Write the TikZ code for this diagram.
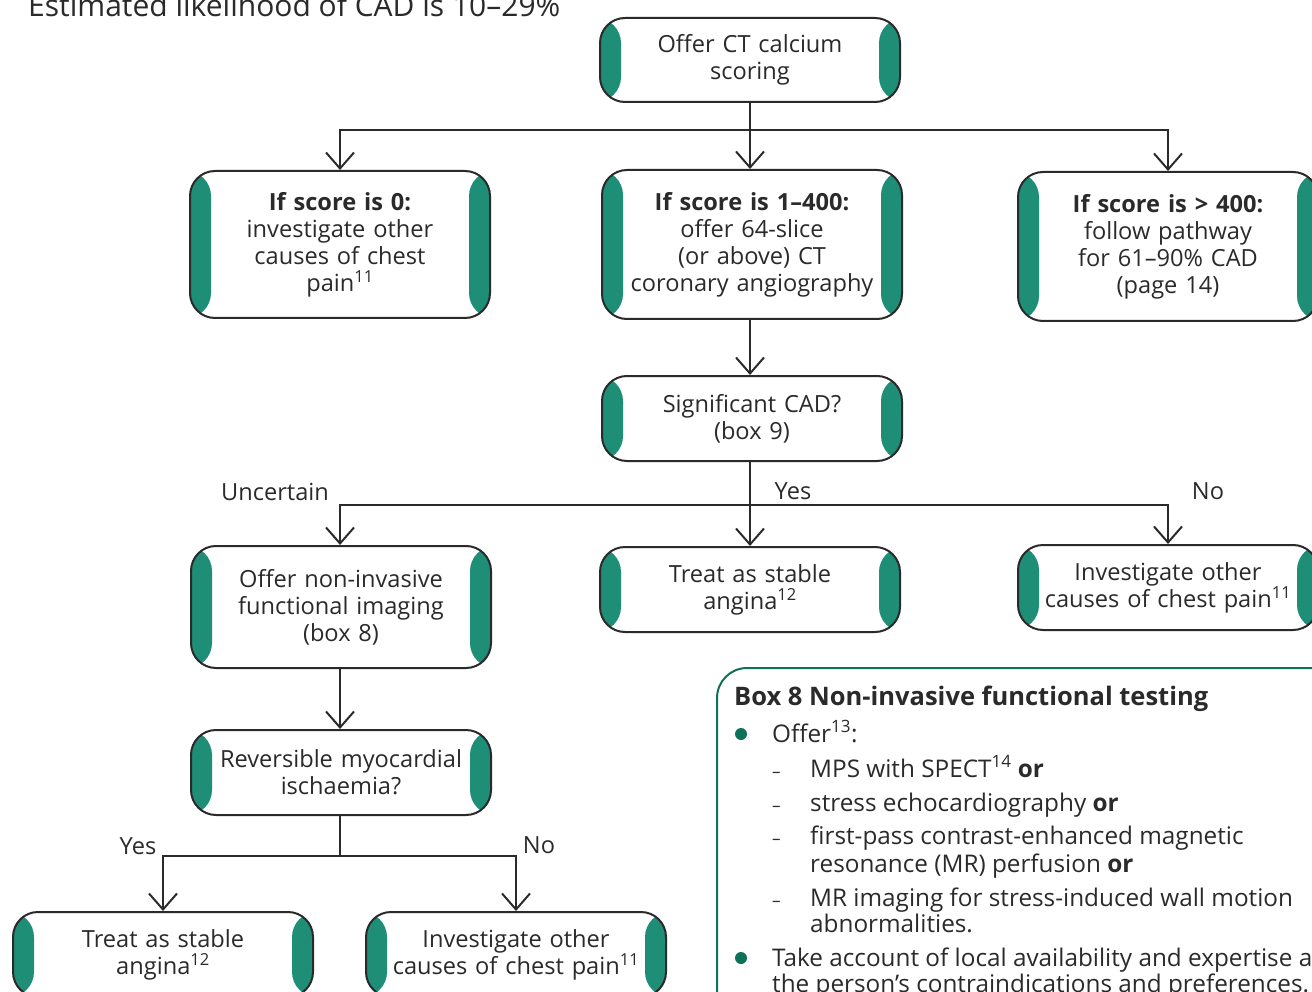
\documentclass[tikz,border=0pt]{standalone}
\usepackage{fontspec}
\setmainfont{Open Sans}
\usetikzlibrary{arrows.meta,positioning}
\definecolor{bandgreen}{HTML}{1E8E76}
\definecolor{panelgreen}{HTML}{0F7258}
\definecolor{inkgray}{HTML}{2A2A2A}
\newcommand\boxfont{\fontsize{23.6}{27}\selectfont}
\newcommand\panelfont{\fontsize{24.3}{27}\selectfont}
\newcommand\headfont{\fontsize{30}{34}\selectfont}
\tikzset
{
    pathbox/.style  = {rectangle, rounded corners=25pt, draw=inkgray, line width=2pt, fill=white,
                       minimum width=300pt, minimum height=#1, text width=258pt, align=center,
                       inner sep=0pt, font=\boxfont, text=inkgray,
                       path picture={
                         \fill[bandgreen] (path picture bounding box.south west) rectangle ([xshift=21pt]path picture bounding box.north west);
                         \fill[bandgreen] (path picture bounding box.south east) rectangle ([xshift=-21pt]path picture bounding box.north east);
                       }},
    pathbox/.default = 85pt,
    link/.style     = {draw=inkgray, line width=2pt},
    arrow/.style    = {link, -{Straight Barb[length=16pt, width=28pt]}},
    branch/.style   = {font=\boxfont, text=inkgray, inner sep=0pt},
    paneltext/.style= {anchor=base west, inner sep=0pt, font=\panelfont, text=inkgray},
    dashmark/.style = {anchor=base west, inner sep=0pt, font=\fontsize{17}{17}\selectfont, text=inkgray},
    bullet/.style   = {circle, fill=panelgreen, inner sep=0pt, minimum size=12pt},
}

\begin{document}
\begin{tikzpicture}[x=1pt, y=-1pt]
   \path[use as bounding box, clip] (0,0) rectangle (1312,992);

   \node (lead) [anchor=base west, inner sep=0pt, font=\headfont, text=inkgray] at (28,17) {Estimated likelihood of CAD is 10–29\%};

   % flowchart boxes
   \node (cs)  [pathbox=84pt]  at (750, 60)    {Offer CT calcium\\scoring};
   \node (s0)  [pathbox=147pt] at (340, 244.5) {\textbf{If score is 0:}\\investigate other\\causes of chest\\pain\textsuperscript{11}};
   \node (s1)  [pathbox=149pt] at (752, 244.5) {\textbf{If score is 1–400:}\\offer 64-slice\\(or above) CT\\coronary angiography};
   \node (s2)  [pathbox=149pt] at (1168, 246.5) {\textbf{If score is > 400:}\\follow pathway\\for 61–90\% CAD\\(page 14)};
   \node (sig) [pathbox]       at (752, 418.5) {Significant CAD?\\(box 9)};
   \node (fi)  [pathbox=122pt] at (341, 607)   {Offer non-invasive\\functional imaging\\(box 8)};
   \node (tsa) [pathbox]       at (750, 589.5) {Treat as stable\\angina\textsuperscript{12}};
   \node (ioa) [pathbox]       at (1168, 587.5) {Investigate other\\causes of chest pain\textsuperscript{11}};
   \node (rmi) [pathbox]       at (341, 772.5) {Reversible myocardial\\ischaemia?};
   \node (tsb) [pathbox]       at (163, 954.5) {Treat as stable\\angina\textsuperscript{12}};
   \node (iob) [pathbox]       at (516, 954.5) {Investigate other\\causes of chest pain\textsuperscript{11}};

   % junctions
   \coordinate (j1) at (750, 130);
   \coordinate (j2) at (750, 505);
   \coordinate (j3) at (340, 856);

   \draw[link]  (cs) -- (j1);
   \draw[arrow] (j1) -| (s0.north);
   \draw[arrow] (j1) -- (j1 |- s1.north);
   \draw[arrow] (j1) -| (s2.north);
   \draw[arrow] (s1.south -| j1) -- (sig.north -| j1);

   \draw[link]  (sig.south -| j2) -- (j2);
   \draw[arrow] (j2) -| (fi.north -| s0);
   \draw[arrow] (j2) -- (j2 |- tsa.north);
   \draw[arrow] (j2) -| (ioa.north);

   \draw[arrow] (fi.south -| s0) -- (rmi.north -| s0);
   \draw[link]  (rmi.south -| j3) -- (j3);
   \draw[arrow] (j3) -| (tsb.north);
   \draw[arrow] (j3) -| (iob.north);

   % branch labels
   \node (lu)  [branch] at (275, 492) {Uncertain};
   \node (ly)  [branch] at (793, 491) {Yes};
   \node (ln)  [branch] at (1208, 491) {No};
   \node (ly2) [branch] at (138, 846) {Yes};
   \node (ln2) [branch] at (539, 845) {No};

   % Box 8 panel
   \draw[panelgreen, line width=2pt, rounded corners=30pt] (717,1010) |- (1340,668);
   \node (bt) [paneltext, font=\fontsize{25.5}{29}\selectfont\bfseries] at (734,705) {Box 8 Non-invasive functional testing};
   \node (b1) [bullet] at (741,734) {};
   \node (o1) [paneltext] at (772,742) {Offer\textsuperscript{13}:};
   \node (d1) [dashmark] at (772,777) {–};
   \node (o2) [paneltext] at (810,777) {MPS with SPECT\textsuperscript{14} \textbf{or}};
   \node (d2) [dashmark] at (772,811) {–};
   \node (o3) [paneltext] at (810,811) {stress echocardiography \textbf{or}};
   \node (d3) [dashmark] at (772,844) {–};
   \node (o4) [paneltext] at (810,844) {first-pass contrast-enhanced magnetic};
   \node (o5) [paneltext] at (810,872) {resonance (MR) perfusion \textbf{or}};
   \node (d4) [dashmark] at (772,906) {–};
   \node (o6) [paneltext] at (810,906) {MR imaging for stress-induced wall motion};
   \node (o7) [paneltext] at (810,932) {abnormalities.};
   \node (b2) [bullet] at (741,958) {};
   \node (o8) [paneltext] at (772,966) {Take account of local availability and expertise and};
   \node (o9) [paneltext] at (772,992) {the person’s contraindications and preferences.};
\end{tikzpicture}
\end{document}
